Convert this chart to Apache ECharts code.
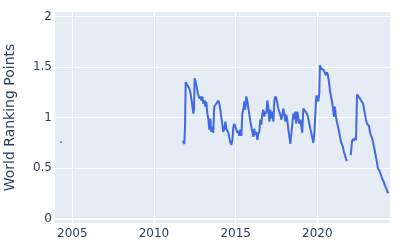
<!DOCTYPE html>
<html>
<head>
<meta charset="utf-8">
<script src="https://cdn.jsdelivr.net/npm/echarts@6/dist/echarts.min.js"></script>
<style>html,body{margin:0;padding:0;background:#fff}#c{width:400px;height:250px}</style>
</head>
<body>
<div id="c"></div>
<script>
const yTickValues = [0, 0.5, 1, 1.5, 2];
const xTickValues = [2005, 2010, 2015, 2020];
const years = [
2004.27, 2004.35, null, 2005.08, 2005.11, null,
2011.76, 2011.82, 2011.86, 2011.90, 2011.94, 2012.04, 2012.16, 2012.24, 2012.33, 2012.41, 2012.45, 2012.49, 2012.53, 2012.61,
2012.69, 2012.78, 2012.84, 2012.90, 2012.96, 2013.02, 2013.10, 2013.14, 2013.20, 2013.27, 2013.33, 2013.39, 2013.45, 2013.51,
2013.57, 2013.63, 2013.69, 2013.76, 2013.82, 2013.88, 2013.94, 2014.00, 2014.06, 2014.12, 2014.18, 2014.24, 2014.31, 2014.37,
2014.43, 2014.49, 2014.55, 2014.61, 2014.67, 2014.73, 2014.80, 2014.86, 2014.92, 2014.98, 2015.04, 2015.10, 2015.16, 2015.22,
2015.29, 2015.35, 2015.41, 2015.47, 2015.53, 2015.59, 2015.65, 2015.71, 2015.78, 2015.84, 2015.90, 2015.96, 2016.02, 2016.08,
2016.14, 2016.20, 2016.27, 2016.33, 2016.39, 2016.45, 2016.51, 2016.57, 2016.63, 2016.69, 2016.76, 2016.82, 2016.88, 2016.94,
2017.00, 2017.06, 2017.12, 2017.18, 2017.25, 2017.31, 2017.37, 2017.43, 2017.49, 2017.55, 2017.61, 2017.67, 2017.73, 2017.80,
2017.86, 2017.92, 2017.98, 2018.04, 2018.10, 2018.16, 2018.22, 2018.29, 2018.35, 2018.41, 2018.47, 2018.53, 2018.59, 2018.65,
2018.71, 2018.78, 2018.84, 2018.90, 2018.96, 2019.02, 2019.08, 2019.14, 2019.20, 2019.27, 2019.33, 2019.39, 2019.45, 2019.51,
2019.57, 2019.63, 2019.69, 2019.76, 2019.82, 2019.88, 2019.94, 2020.00, 2020.06, 2020.12, 2020.16, 2020.22, 2020.31, 2020.39,
2020.47, 2020.53, 2020.59, 2020.65, 2020.71, 2020.78, 2020.84, 2020.90, 2020.96, 2021.02, 2021.08, 2021.14, 2021.20, 2021.27,
2021.33, 2021.39, 2021.45, 2021.51, 2021.57, 2021.63, 2021.69, 2021.76, 2021.82, null,
2022.04, 2022.08, 2022.12, 2022.18, 2022.24, 2022.31, 2022.37, 2022.43, 2022.49, 2022.55, 2022.61, 2022.67, 2022.73, 2022.80,
2022.86, 2022.92, 2022.98, 2023.04, 2023.10, 2023.16, 2023.22, 2023.29, 2023.35, 2023.41, 2023.47, 2023.53, 2023.59, 2023.65,
2023.71, 2023.78, 2023.84, 2023.90, 2023.96, 2024.02, 2024.08, 2024.14, 2024.20, 2024.27, 2024.33
];
const points = [
0.76, 0.76, null, 0.76, 0.76, null,
0.77, 0.76, 0.74, 0.91, 1.35, 1.34, 1.29, 1.24, 1.14, 1.04, 1.08, 1.39, 1.40, 1.31,
1.24, 1.19, 1.21, 1.17, 1.21, 1.14, 1.17, 1.11, 1.16, 1.04, 0.98, 0.88, 0.99, 0.86,
0.91, 0.85, 1.11, 1.12, 1.14, 1.13, 1.17, 1.14, 1.08, 1.01, 0.94, 0.86, 0.89, 0.96,
0.89, 0.87, 0.85, 0.80, 0.76, 0.73, 0.78, 0.91, 0.94, 0.94, 0.88, 0.85, 0.87, 0.82,
0.88, 0.82, 1.04, 1.08, 1.16, 1.08, 1.21, 1.17, 1.09, 1.03, 0.96, 0.91, 0.86, 0.81,
0.89, 0.83, 0.86, 0.78, 0.84, 0.86, 0.98, 0.93, 1.03, 1.08, 1.01, 1.06, 1.04, 1.17,
1.11, 0.96, 1.08, 0.99, 1.06, 0.96, 1.17, 1.21, 1.19, 1.14, 1.09, 1.09, 1.03, 0.98,
1.03, 1.09, 1.04, 0.96, 1.03, 0.98, 0.89, 0.81, 0.74, 0.74, 0.74, 1.04, 0.98, 1.06,
0.94, 1.06, 0.99, 0.94, 0.98, 0.91, 0.85, 1.09, 1.08, 1.06, 1.06, 1.03, 0.99, 0.94,
0.89, 0.85, 0.80, 0.75, 0.85, 1.04, 1.22, 1.21, 1.16, 1.24, 1.52, 1.49, 1.48, 1.47,
1.47, 1.42, 1.45, 1.42, 1.36, 1.26, 1.21, 1.16, 1.09, 1.01, 1.11, 1.01, 0.96, 0.91,
0.86, 0.81, 0.76, 0.75, 0.71, 0.66, 0.63, 0.59, 0.57, null,
0.63, 0.68, 0.76, 0.79, 0.77, 0.80, 0.78, 1.23, 1.23, 1.22, 1.19, 1.17, 1.16, 1.14,
1.09, 1.03, 0.98, 0.94, 0.94, 0.92, 0.86, 0.82, 0.80, 0.76, 0.71, 0.66, 0.61, 0.56,
0.50, 0.48, 0.47, 0.43, 0.40, 0.38, 0.36, 0.33, 0.32, 0.28, 0.25
];
const seriesData = years.map((y, i) => (y === null ? [null, null] : [y, points[i]]));
const font = 'DejaVu Sans, Verdana, sans-serif';
const txt = '#2a3f5f';
const chart = echarts.init(document.getElementById('c'), null, {renderer: 'canvas'});
chart.setOption({
  animation: false,
  backgroundColor: '#fff',
  grid: {left: 55, right: 10, top: 12, bottom: 27, show: true, backgroundColor: '#E5ECF6', borderWidth: 0,
         containLabel: false, outerBoundsMode: 'none'},
  xAxis: {
    type: 'value', min: 2003.94, max: 2024.45,
    axisLine: {show: false},
    axisTick: {show: false, customValues: xTickValues},
    axisLabel: {customValues: xTickValues, color: txt, fontFamily: font, fontSize: 12, margin: 5, formatter: v => String(v)},
    splitLine: {show: true, lineStyle: {color: '#fff', width: 1}}
  },
  yAxis: {
    type: 'value', min: -0.043, max: 2.046,
    name: 'World Ranking Points', nameLocation: 'middle', nameGap: 38,
    nameTextStyle: {color: txt, fontFamily: font, fontSize: 14},
    axisLine: {show: false},
    axisTick: {show: false, customValues: yTickValues},
    axisLabel: {customValues: yTickValues, color: txt, fontFamily: font, fontSize: 12, margin: 3, formatter: v => String(v)},
    splitLine: {show: true, lineStyle: {color: '#fff', width: 1}}
  },
  series: [{
    type: 'line', data: seriesData, showSymbol: false, connectNulls: false,
    lineStyle: {color: '#4169E1', width: 2},
    itemStyle: {color: '#4169E1'},
    markLine: {silent: true, symbol: 'none', label: {show: false}, lineStyle: {color: '#fff', width: 2, type: 'solid'}, data: [{yAxis: 0}]},
    z: 3
  }]
});
</script>
</body>
</html>
